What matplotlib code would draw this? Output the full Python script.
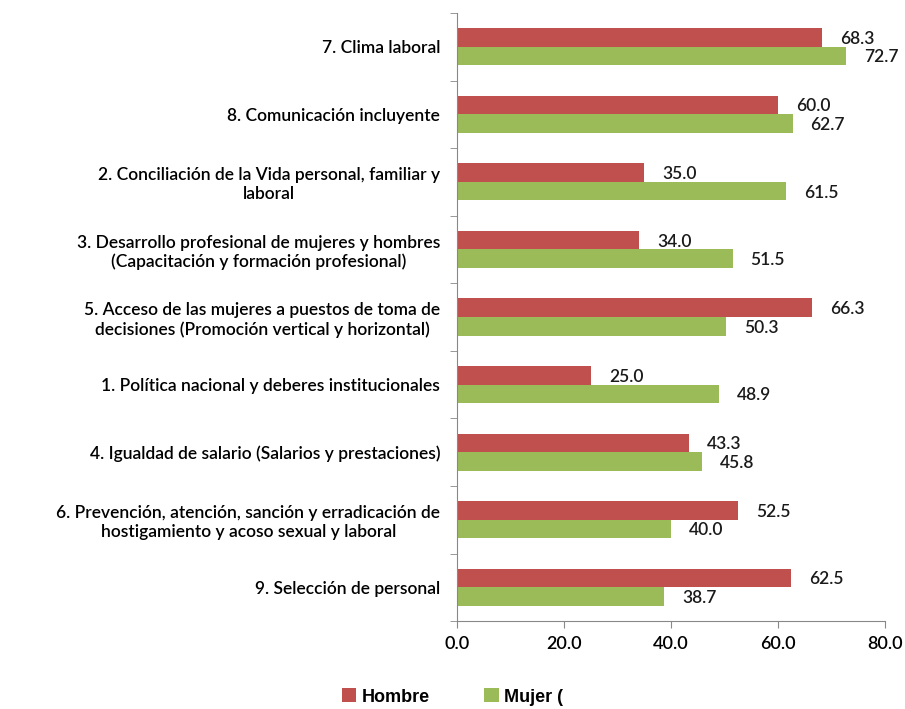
import matplotlib
matplotlib.use('Agg')
import matplotlib.pyplot as plt
import numpy as np

categorias = [
    "7. Clima laboral",
    "8. Comunicación incluyente",
    "2. Conciliación de la Vida personal, familiar y\nlaboral",
    "3. Desarrollo profesional de mujeres y hombres\n(Capacitación y formación profesional)",
    "5. Acceso de las mujeres a puestos de toma de\ndecisiones (Promoción vertical y horizontal)",
    "1. Política nacional y deberes institucionales",
    "4. Igualdad de salario (Salarios y prestaciones)",
    "6. Prevención, atención, sanción y erradicación de\nhostigamiento y acoso sexual y laboral",
    "9. Selección de personal",
]
hombre = [68.3, 60.0, 35.0, 34.0, 66.3, 25.0, 43.3, 52.5, 62.5]
mujer = [72.7, 62.7, 61.5, 51.5, 50.3, 48.9, 45.8, 40.0, 38.7]
xticks = [0, 20, 40, 60, 80]

plt.rcParams['font.family'] = ['Lato', 'DejaVu Sans']

fig = plt.figure(figsize=(9.05, 7.09), dpi=100)
ax = fig.add_axes([0.505, 0.124, 0.473, 0.8577])

n = len(categorias)
y = np.arange(n)
h = 0.275
rojo = '#c0504d'
verde = '#9bbb59'

b1 = ax.barh(y - h / 2, hombre, height=h, color=rojo, label='Hombre')
b2 = ax.barh(y + h / 2, mujer, height=h, color=verde, label='Mujer (')

# etiquetas de valor
for barras, vals in ((b1, hombre), (b2, mujer)):
    for rect, v in zip(barras, vals):
        ax.annotate(f"{v:.1f}", (v, rect.get_y() + rect.get_height() / 2),
                    xytext=(13, -1), textcoords='offset points', va='center',
                    fontsize=12.5, fontweight='semibold', color='#1a1a1a')

ax.set_xlim(0, 80)
ax.set_ylim(n - 0.5, -0.5)
ax.set_xticks(xticks)
ax.set_xticklabels([f"{t:.1f}" for t in xticks], fontsize=13, fontweight='semibold')

ax.set_yticks(y)
ax.set_yticklabels(categorias, fontsize=12.5, fontweight='semibold')
for lbl in ax.get_yticklabels():
    lbl.set_multialignment('center')
ax.tick_params(axis='y', length=0, pad=12)
ax.set_yticks(np.arange(-0.5, n, 1), minor=True)
ax.tick_params(axis='y', which='minor', length=5, color='#888888')
ax.tick_params(axis='x', length=5, color='#888888', pad=6)

for s in ['top', 'right']:
    ax.spines[s].set_visible(False)
ax.spines['left'].set_color('#888888')
ax.spines['bottom'].set_color('#888888')

fig.legend(handles=[b1, b2], loc='lower center', bbox_to_anchor=(0.5, -0.018),
           ncol=2, frameon=False, handlelength=0.8,
           handleheight=0.8, columnspacing=3, handletextpad=0.3,
           prop={'weight': 'bold', 'size': 13, 'family': 'Liberation Sans'})

fig.savefig('out.png', dpi=100)
